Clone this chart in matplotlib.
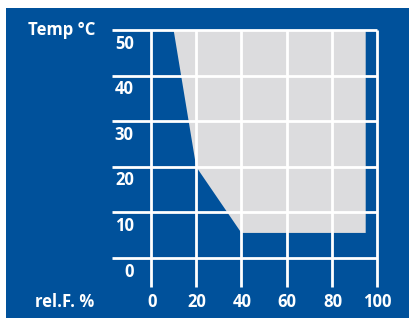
import matplotlib
matplotlib.use("Agg")
import matplotlib.pyplot as plt
from matplotlib.patches import Rectangle

# Data
rh_ticks = [0, 20, 40, 60, 80, 100]
temp_ticks = [0, 10, 20, 30, 40, 50]
region_rh = [10, 95, 95, 40, 20]
region_temp = [50, 50, 5.5, 5.5, 20]
y_label = "Temp °C"
x_label = "rel.F. %"

BLUE = "#00519b"
GRAY = "#dcdcde"
FONT = "Open Sans"

W, H = 410, 322
fig = plt.figure(figsize=(W / 100, H / 100), dpi=100)
fig.patch.set_facecolor("white")

ax = fig.add_axes([0, 0, 1, 1])
ax.set_facecolor("none")
ax.set_xlim(-151 / 2.26, (W - 151) / 2.26)
ax.set_ylim(-(H - 258) / 4.56, 258 / 4.56)
ax.axis("off")

ax.add_patch(Rectangle((6 / W, 4 / H), 404 / W, 310 / H,
                       transform=ax.transAxes, facecolor=BLUE,
                       edgecolor="none", zorder=0))

ax.fill(region_rh, region_temp, color=GRAY, lw=0, zorder=1)

lw = 2.0
ax.hlines(temp_ticks, -17.4, max(rh_ticks), colors="white", lw=lw, zorder=2)
ax.vlines(rh_ticks, -6.3, max(temp_ticks), colors="white", lw=lw, zorder=2)

fs = 12
for t in temp_ticks:
    ax.text(-7.6, t - 3.0, str(t), ha="right", va="center", color="white",
            fontsize=fs, fontweight="bold", family=FONT, zorder=3)
for r in rh_ticks:
    ax.text(r + 0.3, -9.7, str(r), ha="center", va="center", color="white",
            fontsize=fs, fontweight="bold", family=FONT, zorder=3)

ax.text(95 / W, 1 - 30 / H, y_label, transform=ax.transAxes, ha="right",
        va="center", color="white", fontsize=fs, fontweight="bold", family=FONT)
ax.text(94 / W, 1 - 302 / H, x_label, transform=ax.transAxes, ha="right",
        va="center", color="white", fontsize=fs, fontweight="bold", family=FONT)

fig.savefig("out.png", dpi=100, facecolor="white")
